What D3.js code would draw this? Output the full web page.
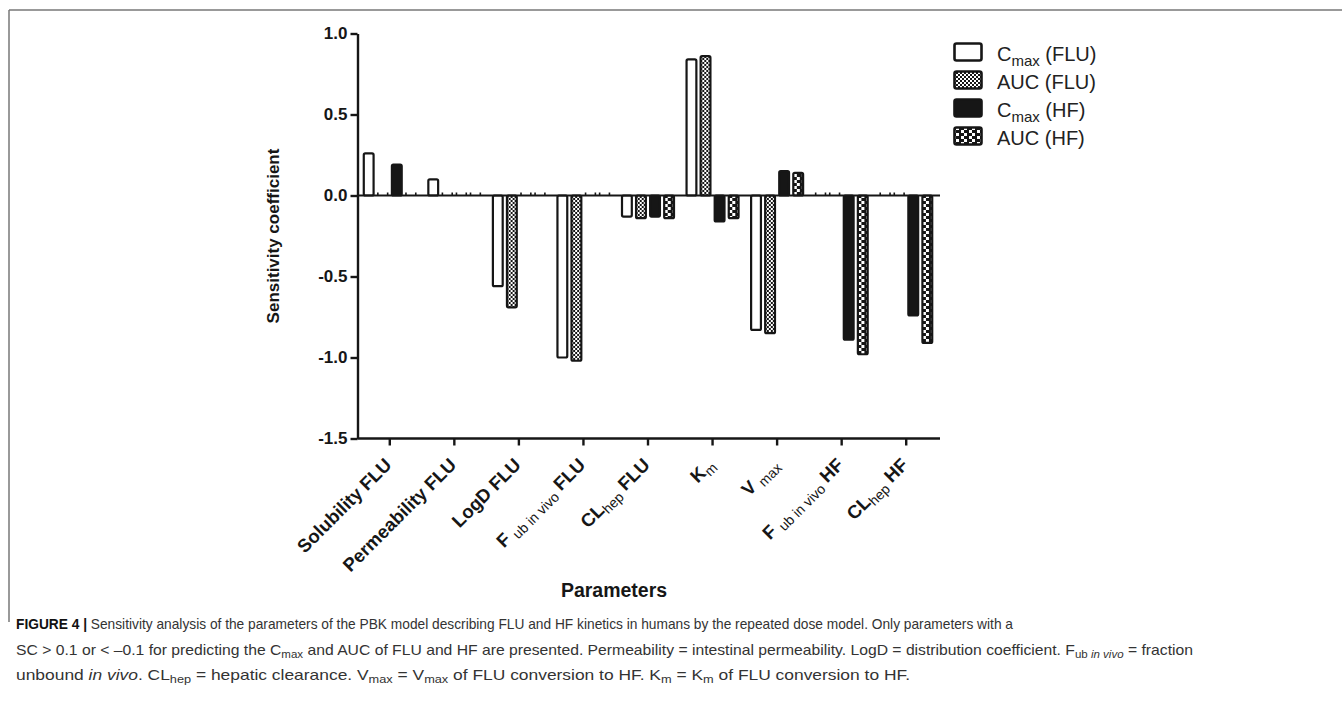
<!DOCTYPE html>
<html>
<head>
<meta charset="utf-8">
<script src="https://cdn.jsdelivr.net/npm/d3@7"></script>
<style>
	body { margin: 0; background: #fff; }
	svg { display: block; }
</style>
</head>
<body>
<div class="chart"></div>
<script>

// ----------------------------------------------------------
// data

var categories = ["Solubility FLU", "Permeability FLU", "LogD FLU", "Fub in vivo FLU", "CLhep FLU", "Km", "Vmax", "Fub in vivo HF", "CLhep HF"];

// tick labels split in [text, subscript, text] pieces
var tickLabels = [
	["Solubility FLU"],
	["Permeability FLU"],
	["LogD FLU"],
	["F ", "ub in vivo", " FLU"],
	["CL", "hep", " FLU"],
	["K", "m"],
	["V ", "max"],
	["F ", "ub in vivo", " HF"],
	["CL", "hep", " HF"]
];

var seriesKeys = ["cmaxFLU", "aucFLU", "cmaxHF", "aucHF"];
var seriesNames = [["C", "max", " (FLU)"], ["AUC (FLU)"], ["C", "max", " (HF)"], ["AUC (HF)"]];

var cmaxFLU = [0.26, 0.10, -0.56, -1.00, -0.13, 0.84, -0.83, 0, 0];
var aucFLU  = [0, 0, -0.69, -1.02, -0.14, 0.86, -0.85, 0, 0];
var cmaxHF  = [0.19, 0, 0, 0, -0.13, -0.16, 0.15, -0.89, -0.74];
var aucHF   = [0, 0, 0, 0, -0.14, -0.14, 0.14, -0.98, -0.91];

var yTicks = [-1.5, -1.0, -0.5, 0.0, 0.5, 1.0];

var seriesValues = { cmaxFLU: cmaxFLU, aucFLU: aucFLU, cmaxHF: cmaxHF, aucHF: aucHF };

var font = "'Liberation Sans', Arial, Helvetica, sans-serif";
var ink = "#161616";

var svg = d3.select(".chart")
	.append("svg")
	.attr("width", 1342)
	.attr("height", 709);

// figure frame
svg.append("line")
	.attr("x1", 9).attr("x2", 1342)
	.attr("y1", 10).attr("y2", 10)
	.style("stroke", "#777").style("stroke-width", 1.5);
svg.append("line")
	.attr("x1", 9).attr("x2", 9)
	.attr("y1", 10).attr("y2", 622)
	.style("stroke", "#777").style("stroke-width", 1.5);

// ----------------------------------------------------------
// fill patterns

var defs = svg.append("defs");

var p1 = defs.append("pattern")
	.attr("id", "patAucFlu")
	.attr("patternUnits", "userSpaceOnUse")
	.attr("width", 4).attr("height", 4);
p1.append("rect").attr("width", 4).attr("height", 4).style("fill", "#fff");
p1.append("rect").attr("x", 0).attr("y", 0).attr("width", 2).attr("height", 2).style("fill", ink);
p1.append("rect").attr("x", 2).attr("y", 2).attr("width", 2).attr("height", 2).style("fill", ink);

var p2 = defs.append("pattern")
	.attr("id", "patAucHf")
	.attr("patternUnits", "userSpaceOnUse")
	.attr("width", 8).attr("height", 6);
p2.append("rect").attr("width", 8).attr("height", 6).style("fill", ink);
p2.append("rect").attr("x", 1).attr("y", 0).attr("width", 3).attr("height", 3).style("fill", "#fff");
p2.append("rect").attr("x", 4).attr("y", 3).attr("width", 3).attr("height", 3).style("fill", "#fff");

var fills = { cmaxFLU: "#fff", aucFLU: "url(#patAucFlu)", cmaxHF: ink, aucHF: "url(#patAucHf)" };

// helper: write [text, sub, text] pieces into a text element
function richText(sel, parts, subSize, shift) {
	parts.forEach(function(p, i) {
		var t = sel.append("tspan").text(p);
		if (i == 1) {
			t.attr("class", "sub").style("font-size", subSize + "px").attr("dy", shift);
		} else if (i == 2) {
			t.attr("dy", -shift);
		}
	});
}

// ----------------------------------------------------------
// scales

var x = d3.scaleBand()
	.domain(categories)
	.range([357.5, 938.5])
	.padding(0);

var sub = d3.scaleBand()
	.domain(seriesKeys)
	.range([x.bandwidth() / 2 - 27, x.bandwidth() / 2 + 27])
	.paddingInner(0.16);

var y = d3.scaleLinear()
	.domain([-1.5, 1.0])
	.range([438.5, 33.5]);

// ----------------------------------------------------------
// bars

var groups = svg.selectAll(".group")
	.data(categories)
	.enter().append("g")
	.attr("class", "group")
	.attr("transform", function(d) { return "translate(" + x(d) + ",0)"; });

seriesKeys.forEach(function(key) {
	var bars = groups.filter(function(d, i) { return seriesValues[key][i] != 0; });
	bars.append("rect")
		.attr("x", sub(key) + 1)
		.attr("width", sub.bandwidth() - 2)
		.attr("y", function(d) { var v = seriesValues[key][categories.indexOf(d)]; return y(Math.max(0, v)); })
		.attr("height", function(d) { var v = seriesValues[key][categories.indexOf(d)]; return Math.abs(y(v) - y(0)); })
		.attr("rx", 1.5)
		.style("fill", fills[key])
		.style("stroke", ink)
		.style("stroke-width", 2.2)
		.style("stroke-linejoin", "round");

	// zero values show only as little stubs on the baseline
	var zeros = groups.filter(function(d, i) { return seriesValues[key][i] == 0; });
	zeros.append("path")
		.attr("d", "M" + (sub(key) + 1) + "," + y(0) + "v-3M" + (sub(key) + sub.bandwidth() - 1) + "," + y(0) + "v-3")
		.style("stroke", ink)
		.style("stroke-width", 1.6);
});

// zero line
svg.append("line")
	.attr("x1", x.range()[0]).attr("x2", x.range()[1] + 1.5)
	.attr("y1", y(0)).attr("y2", y(0))
	.style("stroke", ink)
	.style("stroke-width", 2.2);

// ----------------------------------------------------------
// axes

var yAxis = svg.append("g")
	.attr("transform", "translate(357.5,0)")
	.call(d3.axisLeft(y).tickValues(yTicks).tickSize(7).tickSizeOuter(0).tickPadding(3)
		.tickFormat(function(d) { return d.toFixed(1); }));

var xAxis = svg.append("g")
	.attr("transform", "translate(0,438.5)")
	.call(d3.axisBottom(x).tickSize(7).tickSizeOuter(0).tickFormat(""));

[yAxis, xAxis].forEach(function(a) {
	a.select(".domain").style("stroke", ink).style("stroke-width", 2.4);
	a.selectAll(".tick line").style("stroke", ink).style("stroke-width", 2.4);
});
xAxis.select(".domain").attr("d", "M357.5,0H940");

yAxis.selectAll(".tick text")
	.style("font-family", font)
	.style("font-size", "17px")
	.style("font-weight", "bold")
	.style("fill", ink);

// rotated category labels
var xLabels = svg.selectAll(".xlabel")
	.data(categories)
	.enter().append("text")
	.attr("class", "xlabel")
	.attr("transform", function(d) { return "translate(" + (x(d) + x.bandwidth() / 2 + 3) + ",466) rotate(-45)"; })
	.style("text-anchor", "end")
	.style("font-family", font)
	.style("font-size", "18.5px")
	.style("font-weight", "bold")
	.style("fill", ink);

xLabels.each(function(d, i) {
	richText(d3.select(this), tickLabels[i], 14, 4);
});
xLabels.selectAll(".sub").style("font-weight", "normal");

// axis titles
svg.append("text")
	.attr("transform", "translate(279,236) rotate(-90)")
	.style("text-anchor", "middle")
	.style("font-family", font)
	.style("font-size", "17px")
	.style("font-weight", "bold")
	.style("fill", ink)
	.text("Sensitivity coefficient");

svg.append("text")
	.attr("x", 614)
	.attr("y", 597)
	.style("text-anchor", "middle")
	.style("font-family", font)
	.style("font-size", "19.5px")
	.style("font-weight", "bold")
	.style("fill", ink)
	.text("Parameters");

// ----------------------------------------------------------
// legend

var legend = svg.selectAll(".legend")
	.data(seriesKeys)
	.enter().append("g")
	.attr("class", "legend")
	.attr("transform", function(d, i) { return "translate(0," + (52 + i * 28) + ")"; });

legend.append("rect")
	.attr("x", 954.5)
	.attr("y", -8.5)
	.attr("width", 27)
	.attr("height", 17)
	.attr("rx", 2)
	.style("fill", function(d) { return fills[d]; })
	.style("stroke", ink)
	.style("stroke-width", 2.6);

legend.append("text")
	.attr("x", 997)
	.attr("y", 8.5)
	.style("font-family", font)
	.style("font-size", "20px")
	.style("fill", "#222")
	.each(function(d, i) { richText(d3.select(this), seriesNames[i], 15, 5); });

// ----------------------------------------------------------
// caption

var capFont = "'Liberation Sans Narrow', 'Arial Narrow', 'Liberation Sans', Arial, sans-serif";

var captionLines = [
	{ y: 629, len: 997, parts: [
		{ t: "FIGURE 4 | ", b: true },
		{ t: "Sensitivity analysis of the parameters of the PBK model describing FLU and HF kinetics in humans by the repeated dose model. Only parameters with a" }
	]},
	{ y: 655, len: 1177, parts: [
		{ t: "SC > 0.1 or < \u20130.1 for predicting the C" }, { t: "max", s: true },
		{ t: " and AUC of FLU and HF are presented. Permeability = intestinal permeability. LogD = distribution coefficient. F" },
		{ t: "ub ", s: true }, { t: "in vivo", s: true, i: true }, { t: " = fraction" }
	]},
	{ y: 680, len: 894, parts: [
		{ t: "unbound " }, { t: "in vivo", i: true }, { t: ". CL" }, { t: "hep", s: true },
		{ t: " = hepatic clearance. V" }, { t: "max", s: true }, { t: " = V" }, { t: "max", s: true },
		{ t: " of FLU conversion to HF. K" }, { t: "m", s: true }, { t: " = K" }, { t: "m", s: true },
		{ t: " of FLU conversion to HF." }
	]}
];

captionLines.forEach(function(line) {
	var t = svg.append("text")
		.attr("x", 16)
		.attr("y", line.y)
		.attr("textLength", line.len)
		.attr("lengthAdjust", "spacingAndGlyphs")
		.style("font-family", capFont)
		.style("font-size", "15px")
		.style("fill", "#333");
	var down = false;
	line.parts.forEach(function(p) {
		var s = t.append("tspan").text(p.t);
		if (p.b) s.style("font-weight", "bold").style("fill", "#111");
		if (p.i) s.style("font-style", "italic");
		if (p.s) {
			s.style("font-size", "11px");
			if (!down) { s.attr("dy", 3); down = true; }
		} else if (down) {
			s.attr("dy", -3); down = false;
		}
	});
});

</script>
</body>
</html>
